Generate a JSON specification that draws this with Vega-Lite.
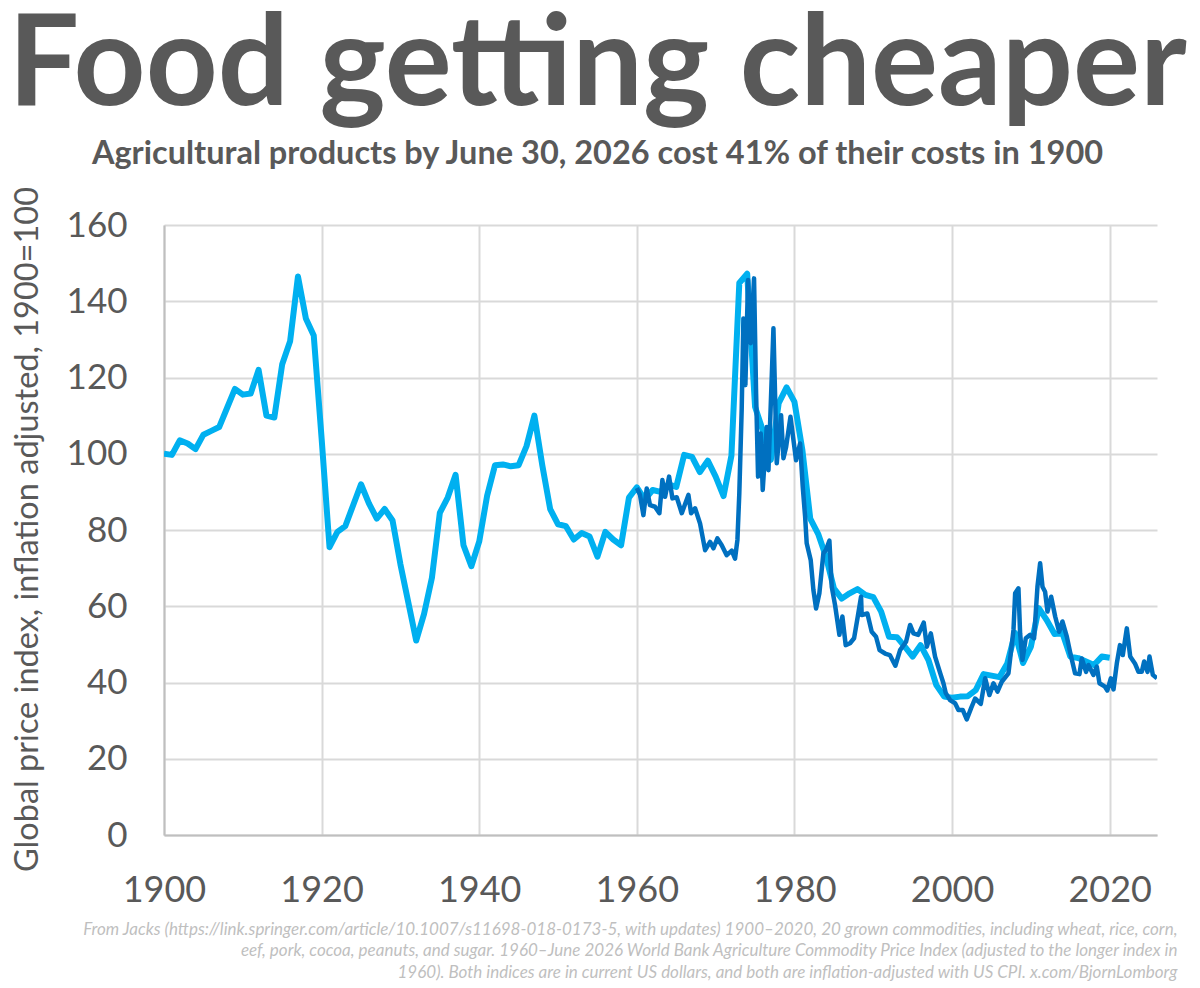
{
  "$schema": "https://vega.github.io/schema/vega-lite/v6.json",
  "width": 993,
  "height": 610,
  "autosize": "none",
  "padding": {"left": 164, "top": 225, "right": 43, "bottom": 153},
  "background": "white",
  "title": {
    "text": "Food getting cheaper",
    "subtitle": "Agricultural products by June 30, 2026 cost 41% of their costs in 1900",
    "anchor": "middle",
    "dx": -63,
    "offset": 15,
    "font": "Lato",
    "fontSize": 125.5,
    "fontWeight": "bold",
    "color": "#595959",
    "subtitleFont": "Lato",
    "subtitleFontSize": 32.5,
    "subtitleFontWeight": "bold",
    "subtitleColor": "#595959",
    "subtitlePadding": 7
  },
  "datasets": {
    "jacks": [
      {"year":1900,"index":100},{"year":1901,"index":99.7},{"year":1902,"index":103.5},{"year":1903,"index":102.7},{"year":1904,"index":101.2},{"year":1905,"index":105},{"year":1906,"index":106},{"year":1907,"index":107},{"year":1908,"index":112},{"year":1909,"index":117},
      {"year":1910,"index":115.5},{"year":1911,"index":115.8},{"year":1912,"index":122},{"year":1913,"index":110},{"year":1914,"index":109.5},{"year":1915,"index":123.5},{"year":1916,"index":129.5},{"year":1917,"index":146.5},{"year":1918,"index":135.5},{"year":1919,"index":131},
      {"year":1920,"index":104},{"year":1921,"index":75.5},{"year":1922,"index":79.5},{"year":1923,"index":81},{"year":1924,"index":86.5},{"year":1925,"index":92},{"year":1926,"index":87},{"year":1927,"index":83},{"year":1928,"index":85.5},{"year":1929,"index":82.5},
      {"year":1930,"index":71},{"year":1931,"index":61},{"year":1932,"index":51},{"year":1933,"index":58},{"year":1934,"index":67.5},{"year":1935,"index":84.5},{"year":1936,"index":88.5},{"year":1937,"index":94.5},{"year":1938,"index":76},{"year":1939,"index":70.5},
      {"year":1940,"index":77},{"year":1941,"index":89},{"year":1942,"index":97},{"year":1943,"index":97.2},{"year":1944,"index":96.7},{"year":1945,"index":97},{"year":1946,"index":102},{"year":1947,"index":110},{"year":1948,"index":97},{"year":1949,"index":85.5},
      {"year":1950,"index":81.5},{"year":1951,"index":81},{"year":1952,"index":77.5},{"year":1953,"index":79.2},{"year":1954,"index":78.3},{"year":1955,"index":73},{"year":1956,"index":79.5},{"year":1957,"index":77.5},{"year":1958,"index":76},{"year":1959,"index":88.5},
      {"year":1960,"index":91.2},{"year":1961,"index":88},{"year":1962,"index":90.5},{"year":1963,"index":90},{"year":1964,"index":92},{"year":1965,"index":91.3},{"year":1966,"index":99.7},{"year":1967,"index":99.2},{"year":1968,"index":95.2},{"year":1969,"index":98.2},
      {"year":1970,"index":94},{"year":1971,"index":88.9},{"year":1972,"index":99.5},{"year":1973,"index":144.8},{"year":1974,"index":147.2},{"year":1975,"index":112.3},{"year":1976,"index":106},{"year":1977,"index":98.4},{"year":1978,"index":113.3},{"year":1979,"index":117.4},
      {"year":1980,"index":113.6},{"year":1981,"index":101},{"year":1982,"index":83},{"year":1983,"index":79},{"year":1984,"index":73},{"year":1985,"index":64.7},{"year":1986,"index":62},{"year":1987,"index":63.4},{"year":1988,"index":64.5},{"year":1989,"index":63},
      {"year":1990,"index":62.4},{"year":1991,"index":58.6},{"year":1992,"index":52},{"year":1993,"index":51.9},{"year":1994,"index":49.4},{"year":1995,"index":46.8},{"year":1996,"index":49.8},{"year":1997,"index":45.9},{"year":1998,"index":39.3},{"year":1999,"index":36.3},
      {"year":2000,"index":36},{"year":2001,"index":36.3},{"year":2002,"index":36.4},{"year":2003,"index":38},{"year":2004,"index":42.2},{"year":2005,"index":41.8},{"year":2006,"index":41.4},{"year":2007,"index":45},{"year":2008,"index":53},{"year":2009,"index":45.1},
      {"year":2010,"index":49.4},{"year":2011,"index":59.5},{"year":2012,"index":56.4},{"year":2013,"index":52.7},{"year":2014,"index":53},{"year":2015,"index":46.8},{"year":2016,"index":46.4},{"year":2017,"index":45.5},{"year":2018,"index":44.6},{"year":2019,"index":46.8},{"year":2020,"index":46.5}
    ],
    "worldbank": [
      {"year":1960,"index":91},{"year":1960.4,"index":89.2},{"year":1960.83,"index":83.9},{"year":1961.25,"index":90.9},{"year":1961.67,"index":86.5},{"year":1962.3,"index":86.1},{"year":1962.86,"index":84.4},{"year":1963.24,"index":93.1},{"year":1963.58,"index":88.7},{"year":1964.09,"index":94},
      {"year":1964.51,"index":88.3},{"year":1965.06,"index":88.6},{"year":1965.7,"index":84.4},{"year":1966.54,"index":89.2},{"year":1966.88,"index":84.4},{"year":1967.39,"index":85.7},{"year":1968.02,"index":81.7},{"year":1968.66,"index":74.7},{"year":1969.29,"index":76.9},{"year":1969.71,"index":75.2},
      {"year":1970.22,"index":77.8},{"year":1970.77,"index":76},{"year":1971.4,"index":73.4},{"year":1972.04,"index":74.6},{"year":1972.46,"index":72.5},{"year":1972.76,"index":77.4},{"year":1973,"index":89.6},{"year":1973.3,"index":111.5},{"year":1973.52,"index":135.5},{"year":1973.77,"index":118},
      {"year":1974.11,"index":145.6},{"year":1974.45,"index":129},{"year":1974.87,"index":146},{"year":1975.13,"index":115.8},{"year":1975.38,"index":94},{"year":1975.72,"index":105.3},{"year":1975.97,"index":90.5},{"year":1976.48,"index":107},{"year":1976.7,"index":95.7},{"year":1977.33,"index":132.9},
      {"year":1977.75,"index":97.5},{"year":1978.3,"index":110.1},{"year":1978.6,"index":98.8},{"year":1978.94,"index":101.8},{"year":1979.49,"index":109.7},{"year":1980.2,"index":98.3},{"year":1980.71,"index":102.7},{"year":1981.05,"index":91.3},{"year":1981.35,"index":83.5},{"year":1981.55,"index":76.5},
      {"year":1982.06,"index":72.1},{"year":1982.4,"index":64.3},{"year":1982.74,"index":59.4},{"year":1983.16,"index":63.4},{"year":1983.67,"index":73.9},{"year":1984,"index":74.8},{"year":1984.43,"index":77.2},{"year":1984.73,"index":65.1},{"year":1985.15,"index":60.3},{"year":1985.7,"index":52.5},
      {"year":1986.08,"index":57.3},{"year":1986.5,"index":49.8},{"year":1987.05,"index":50.3},{"year":1987.56,"index":51.6},{"year":1988.03,"index":57.3},{"year":1988.45,"index":62.5},{"year":1988.53,"index":57.7},{"year":1989.25,"index":58.1},{"year":1989.8,"index":53.3},{"year":1990.35,"index":52},
      {"year":1990.8,"index":48.5},{"year":1991.5,"index":47.6},{"year":1992.1,"index":47.2},{"year":1992.8,"index":44.4},{"year":1993.4,"index":48.5},{"year":1994.16,"index":50.7},{"year":1994.67,"index":55.1},{"year":1995.1,"index":52.9},{"year":1995.7,"index":52.5},{"year":1996.4,"index":55.7},
      {"year":1996.8,"index":49.4},{"year":1997.3,"index":52.9},{"year":1997.84,"index":46.8},{"year":1998.5,"index":42.4},{"year":1998.9,"index":39.8},{"year":1999.2,"index":37.2},{"year":1999.74,"index":35.4},{"year":2000.4,"index":34.5},{"year":2000.8,"index":32.8},{"year":2001.35,"index":32.8},
      {"year":2001.86,"index":30.3},{"year":2002.4,"index":33.2},{"year":2002.92,"index":35.8},{"year":2003.64,"index":34.4},{"year":2004.2,"index":41.1},{"year":2004.74,"index":36.7},{"year":2005.25,"index":39.8},{"year":2005.76,"index":37.6},{"year":2006.3,"index":40.2},{"year":2007.15,"index":42.4},
      {"year":2007.79,"index":53.8},{"year":2008,"index":63.4},{"year":2008.42,"index":64.7},{"year":2008.63,"index":52.9},{"year":2008.93,"index":45.9},{"year":2009.35,"index":51.6},{"year":2009.9,"index":52.5},{"year":2010.4,"index":51.6},{"year":2010.83,"index":65.1},{"year":2011.17,"index":71.3},
      {"year":2011.47,"index":65.1},{"year":2011.8,"index":63.8},{"year":2012.1,"index":58.6},{"year":2012.57,"index":62.5},{"year":2013.08,"index":57.3},{"year":2013.58,"index":53.3},{"year":2014,"index":56},{"year":2014.56,"index":52},{"year":2015,"index":47.7},{"year":2015.6,"index":42.4},
      {"year":2016.16,"index":42.2},{"year":2016.46,"index":46.3},{"year":2017,"index":42.8},{"year":2017.3,"index":44.6},{"year":2017.94,"index":42},{"year":2018.36,"index":44.2},{"year":2018.7,"index":39.8},{"year":2019.4,"index":38.9},{"year":2019.7,"index":37.9},{"year":2020.14,"index":41.1},
      {"year":2020.48,"index":38.2},{"year":2020.9,"index":45},{"year":2021.3,"index":49.8},{"year":2021.66,"index":47.2},{"year":2022.17,"index":54.2},{"year":2022.6,"index":46.8},{"year":2023.2,"index":45},{"year":2023.65,"index":42.8},{"year":2024.07,"index":42.8},{"year":2024.37,"index":45.5},
      {"year":2024.8,"index":42.8},{"year":2025.05,"index":46.8},{"year":2025.47,"index":42},{"year":2026,"index":41.1}
    ]
  },
  "encoding": {
    "x": {
      "field": "year",
      "type": "quantitative",
      "scale": {"domain": [1900, 2026], "nice": false, "zero": false},
      "axis": {
        "values": [1900, 1920, 1940, 1960, 1980, 2000, 2020],
        "format": "d",
        "labelFont": "Lato",
        "labelFontSize": 36,
        "labelColor": "#595959",
        "labelPadding": 38,
        "labelOverlap": false,
        "labelFlush": false,
        "ticks": false,
        "domain": true,
        "domainColor": "#bfbfbf",
        "domainWidth": 2,
        "grid": true,
        "gridColor": "#d9d9d9",
        "gridWidth": 2,
        "title": [
          "From Jacks (https://link.springer.com/article/10.1007/s11698-018-0173-5, with updates) 1900–2020, 20 grown commodities, including wheat, rice, corn,",
          "eef, pork, cocoa, peanuts, and sugar. 1960–June 2026 World Bank Agriculture Commodity Price Index (adjusted to the longer index in",
          "1960). Both indices are in current US dollars, and both are inflation-adjusted with US CPI. x.com/BjornLomborg"
        ],
        "titleFont": "Lato",
        "titleFontSize": 17,
        "titleFontStyle": "italic",
        "titleFontWeight": "normal",
        "titleColor": "#bfbfbf",
        "titleLineHeight": 21.5,
        "titleAlign": "right",
        "titleAnchor": "end",
        "titleBaseline": "top",
        "titleX": 1013,
        "titleY": 86
      }
    },
    "y": {
      "field": "index",
      "type": "quantitative",
      "scale": {"domain": [0, 160]},
      "axis": {
        "values": [0, 20, 40, 60, 80, 100, 120, 140, 160],
        "labelFont": "Lato",
        "labelFontSize": 35,
        "labelColor": "#595959",
        "labelPadding": 37,
        "ticks": false,
        "domain": true,
        "domainColor": "#bfbfbf",
        "domainWidth": 2,
        "grid": true,
        "gridColor": "#d9d9d9",
        "gridWidth": 2,
        "title": "Global price index, inflation adjusted, 1900=100",
        "titleFont": "Lato",
        "titleFontSize": 32.5,
        "titleFontWeight": "normal",
        "titleColor": "#595959",
        "titleX": -120,
        "titleY": 304
      }
    }
  },
  "layer": [
    {
      "data": {"name": "jacks"},
      "mark": {"type": "line", "color": "#00b0f0", "strokeWidth": 6, "strokeJoin": "round", "clip": true}
    },
    {
      "data": {"name": "worldbank"},
      "mark": {"type": "line", "color": "#0070c0", "strokeWidth": 4.5, "strokeJoin": "round", "clip": true}
    }
  ],
  "config": {"view": {"stroke": null}}
}
